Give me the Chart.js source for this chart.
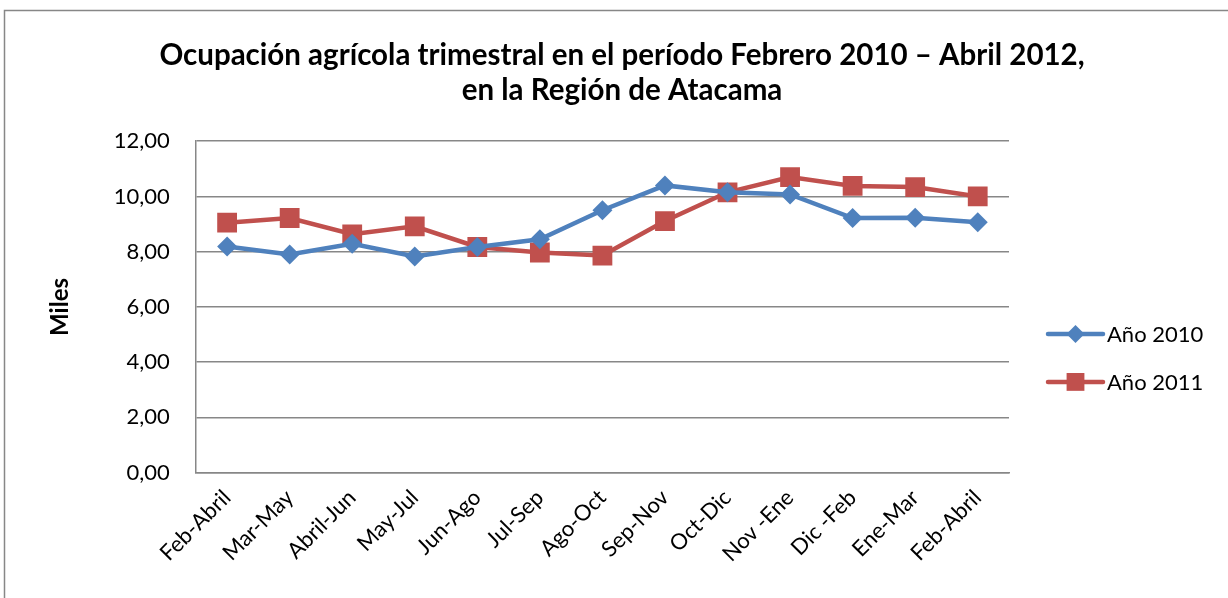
<!DOCTYPE html>
<html>
<head>
<meta charset="utf-8">
<script src="https://cdn.jsdelivr.net/npm/chart.js@4/dist/chart.umd.min.js"></script>
<style>
html,body{margin:0;padding:0;background:#fff;}
#wrap{width:1228px;height:598px;position:relative;}
</style>
</head>
<body>
<div id="wrap"><canvas id="c" width="1228" height="598"></canvas></div>
<script>
const categories = ["Feb-Abril","Mar-May","Abril-Jun","May-Jul","Jun-Ago","Jul-Sep","Ago-Oct","Sep-Nov","Oct-Dic","Nov -Ene","Dic -Feb","Ene-Mar","Feb-Abril"];
const serie2010 = [8.19, 7.90, 8.29, 7.83, 8.17, 8.45, 9.50, 10.40, 10.15, 10.07, 9.22, 9.23, 9.07];
const serie2011 = [9.05, 9.22, 8.63, 8.92, 8.17, 7.97, 7.86, 9.11, 10.15, 10.70, 10.38, 10.34, 10.00];
const seriesNames = ["Año 2010", "Año 2011"];
const titleLines = ["Ocupación agrícola trimestral en el período Febrero 2010 – Abril 2012,", "en la Región de Atacama"];
const yTitle = "Miles";
const yTicks = {min: 0, max: 12, step: 2};

const FONT = "Lato, 'Open Sans', sans-serif";
const BLUE = "#4F81BD", RED = "#C0504D";
const GRID = "#878787";

const borderPlugin = {
  id: 'border',
  beforeDraw(chart) {
    const ctx = chart.ctx;
    ctx.save();
    ctx.fillStyle = '#fff';
    ctx.fillRect(0, 0, chart.width, chart.height);
    ctx.strokeStyle = GRID;
    ctx.lineWidth = 1.5;
    ctx.strokeRect(4.5, 10.5, chart.width + 20, chart.height + 20);
    ctx.restore();
  }
};

function drawMarker(ctx, style, x, y, r, color) {
  ctx.fillStyle = color;
  ctx.beginPath();
  if (style === 'rectRot') {
    ctx.moveTo(x, y - r); ctx.lineTo(x + r, y); ctx.lineTo(x, y + r); ctx.lineTo(x - r, y);
  } else {
    const s = Math.SQRT1_2 * r;
    ctx.rect(x - s, y - s, 2 * s, 2 * s);
  }
  ctx.closePath();
  ctx.fill();
}

const legendPlugin = {
  id: 'sideLegend',
  afterDraw(chart) {
    const ctx = chart.ctx;
    const area = chart.chartArea;
    const x0 = area.right + 39, x1 = area.right + 94;
    const yc = (area.top + area.bottom) / 2 + 51;
    ctx.save();
    chart.data.datasets.forEach((ds, i) => {
      const y = yc + (i - 0.5) * 48;
      ctx.strokeStyle = ds.borderColor;
      ctx.lineWidth = 4.5;
      ctx.lineCap = 'round';
      ctx.beginPath(); ctx.moveTo(x0, y); ctx.lineTo(x1, y); ctx.stroke();
      drawMarker(ctx, ds.pointStyle, (x0 + x1) / 2, y, ds.pointRadius * 0.9, ds.backgroundColor);
      ctx.fillStyle = '#000';
      ctx.font = "22px " + FONT;
      ctx.textBaseline = 'middle';
      ctx.textAlign = 'left';
      ctx.fillText(ds.label, x1 + 4, y + 1);
    });
    ctx.restore();
  }
};

new Chart(document.getElementById('c'), {
  type: 'line',
  data: {
    labels: categories,
    datasets: [
      {label: seriesNames[0], data: serie2010, borderColor: BLUE, backgroundColor: BLUE,
       borderWidth: 4.5, pointStyle: 'rectRot', pointRadius: 10, pointHoverRadius: 10, pointBorderWidth: 0, tension: 0},
      {label: seriesNames[1], data: serie2011, borderColor: RED, backgroundColor: RED,
       borderWidth: 4.5, pointStyle: 'rect', pointRadius: 14, pointHoverRadius: 14, pointBorderWidth: 0, tension: 0}
    ]
  },
  options: {
    responsive: false,
    animation: false,
    devicePixelRatio: 1,
    layout: {padding: {left: 16, right: 0, top: 30, bottom: 19}},
    plugins: {
      legend: {display: false},
      tooltip: {enabled: false},
      title: {
        display: true,
        text: titleLines,
        color: '#000',
        font: {family: FONT, size: 29.5, weight: 'bold', lineHeight: 1.19},
        padding: {top: 8, bottom: 33}
      }
    },
    scales: {
      x: {
        offset: true,
        grid: {display: false, drawTicks: false},
        border: {display: true, color: GRID, width: 1.5},
        ticks: {color: '#000', font: {family: FONT, size: 22}, maxRotation: 45, minRotation: 45, autoSkip: false, padding: 12}
      },
      y: {
        min: yTicks.min, max: yTicks.max,
        grid: {color: GRID, lineWidth: 1.5, drawTicks: false},
        border: {display: true, color: GRID, width: 1.5},
        ticks: {stepSize: yTicks.step, color: '#000', font: {family: FONT, size: 22}, padding: 26,
                callback: v => v.toFixed(2).replace('.', ',')},
        title: {display: true, text: yTitle, color: '#000', font: {family: FONT, size: 24, weight: 'bold'}, padding: {top: 30, bottom: 13}}
      },
      yR: {
        position: 'right',
        display: true,
        grid: {display: false, drawTicks: false},
        border: {display: false},
        ticks: {display: false},
        afterFit(scale) { scale.width = 219; }
      }
    }
  },
  plugins: [borderPlugin, legendPlugin]
});
</script>
</body>
</html>
